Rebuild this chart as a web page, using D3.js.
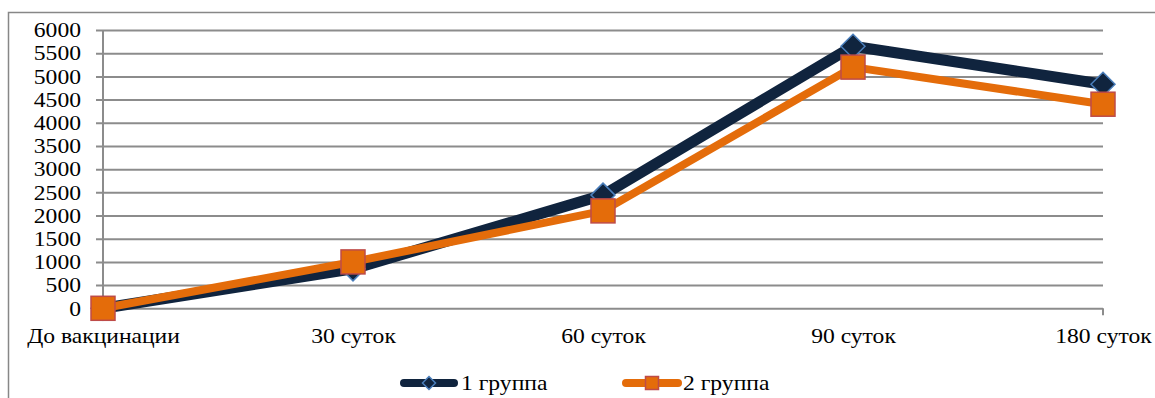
<!DOCTYPE html>
<html>
<head>
<meta charset="utf-8">
<script src="https://cdn.jsdelivr.net/npm/d3@7"></script>
<style>
  body { margin: 0; background: #fff; }
</style>
</head>
<body>
<div id="chart"></div>
<script>
// categories (days after vaccination) and the two groups
var categories = ["До вакцинации", "30 суток", "60 суток", "90 суток", "180 суток"];
var group1 = [0, 850, 2440, 5650, 4830];
var group2 = [0, 1000, 2100, 5200, 4400];
var seriesNames = ["1 группа", "2 группа"];
var yTicks = [0, 500, 1000, 1500, 2000, 2500, 3000, 3500, 4000, 4500, 5000, 5500, 6000];

var FONT = "'Liberation Serif', 'Times New Roman', Times, serif";
var STRETCH = 1.18; // the original picture is a bit wider than tall
var width = 1155, height = 398;
var m = {top: 30, right: 52, bottom: 90, left: 103}; // plot box

var svg = d3.select("#chart").append("svg")
    .attr("width", width)
    .attr("height", height)
    .attr("font-family", FONT);

// widen text glyphs horizontally around their anchor
function stretch(sel) {
    sel.each(function() {
        var t = d3.select(this);
        var tx = +t.attr("x") || 0;
        t.attr("x", 0)
         .attr("transform", "translate(" + tx + ",0) scale(" + STRETCH + ",1)");
    });
}

// outer chart frame (runs off the right and bottom of the picture)
svg.append("rect")
    .attr("x", 8.5).attr("y", 12.5)
    .attr("width", width + 20).attr("height", height + 20)
    .attr("fill", "none")
    .attr("stroke", "#878787")
    .attr("stroke-width", 1.5);

var x = d3.scalePoint()
    .domain(categories)
    .range([m.left, width - m.right])
    .padding(0);

var y = d3.scaleLinear()
    .domain([0, 6000])
    .range([308.3, m.top]);

// gridlines + y ticks
var yAxis = d3.axisLeft(y)
    .tickValues(yTicks)
    .tickSize(-(width - m.right - m.left))
    .tickSizeOuter(0)
    .tickPadding(22)
    .tickFormat(d3.format("d"));

var gy = svg.append("g")
    .attr("transform", "translate(" + m.left + ",0)")
    .call(yAxis)
    .attr("font-family", FONT);
gy.select(".domain").remove();
gy.selectAll(".tick line")
    .attr("x1", -7)
    .attr("stroke", "#8c8c8c")
    .attr("stroke-width", 2);
gy.selectAll(".tick text")
    .style("font-family", FONT)
    .style("font-size", "20px")
    .attr("fill", "#000")
    .attr("dy", "0.34em")
    .call(stretch);

// y axis line
svg.append("line")
    .attr("x1", m.left).attr("x2", m.left)
    .attr("y1", y(6000)).attr("y2", y(0) + 7)
    .attr("stroke", "#8c8c8c").attr("stroke-width", 2);

// x axis
var xAxis = d3.axisBottom(x)
    .tickSize(0)
    .tickPadding(21);
var gx = svg.append("g")
    .attr("transform", "translate(0," + y(0) + ")")
    .call(xAxis)
    .attr("font-family", FONT);
gx.select(".domain").remove();
gx.selectAll(".tick text")
    .style("font-family", FONT)
    .style("font-size", "20px")
    .attr("fill", "#000")
    .call(stretch);
svg.append("line")
    .attr("x1", x(categories[categories.length - 1])).attr("x2", x(categories[categories.length - 1]))
    .attr("y1", y(0)).attr("y2", y(0) + 7)
    .attr("stroke", "#8c8c8c").attr("stroke-width", 2);

var line = d3.line()
    .x(function(d, i) { return x(categories[i]); })
    .y(function(d) { return y(d); });

function diamond(r) {
    return "M0," + (-r) + "L" + r + ",0L0," + r + "L" + (-r) + ",0Z";
}

// series 1: dark line with diamonds
svg.append("path")
    .datum(group1)
    .attr("d", line)
    .attr("fill", "none")
    .attr("stroke", "#10243e")
    .attr("stroke-width", 11)
    .attr("stroke-linejoin", "round");
svg.selectAll(".m1").data(group1).enter().append("path")
    .attr("class", "m1")
    .attr("transform", function(d, i) { return "translate(" + x(categories[i]) + "," + y(d) + ")"; })
    .attr("d", diamond(12))
    .attr("fill", "#10243e")
    .attr("stroke", "#4a7ebb")
    .attr("stroke-width", 1.5);

// series 2: orange line with squares
svg.append("path")
    .datum(group2)
    .attr("d", line)
    .attr("fill", "none")
    .attr("stroke", "#e46c0a")
    .attr("stroke-width", 8)
    .attr("stroke-linejoin", "round");
svg.selectAll(".m2").data(group2).enter().append("rect")
    .attr("class", "m2")
    .attr("x", function(d, i) { return x(categories[i]) - 12; })
    .attr("y", function(d) { return y(d) - 12; })
    .attr("width", 24).attr("height", 24)
    .attr("fill", "#e46c0a")
    .attr("stroke", "#be4b48")
    .attr("stroke-width", 1.5);

// legend
var legend = svg.append("g").attr("transform", "translate(0,383)");
var l1 = legend.append("g").attr("transform", "translate(400,0)");
l1.append("line").attr("x1", 4).attr("x2", 54)
    .attr("stroke", "#10243e").attr("stroke-width", 8).attr("stroke-linecap", "round");
l1.append("path").attr("transform", "translate(29,0)").attr("d", diamond(6.5))
    .attr("fill", "#10243e").attr("stroke", "#4a7ebb").attr("stroke-width", 1.5);
l1.append("text").attr("x", 61).attr("dy", "0.34em")
    .style("font-family", FONT)
    .style("font-size", "20px").text(seriesNames[0])
    .call(stretch);

var l2 = legend.append("g").attr("transform", "translate(622,0)");
l2.append("line").attr("x1", 4).attr("x2", 56)
    .attr("stroke", "#e46c0a").attr("stroke-width", 8).attr("stroke-linecap", "round");
l2.append("rect").attr("x", 23.5).attr("y", -6.5).attr("width", 13).attr("height", 13)
    .attr("fill", "#e46c0a").attr("stroke", "#be4b48").attr("stroke-width", 1.5);
l2.append("text").attr("x", 61).attr("dy", "0.34em")
    .style("font-family", FONT)
    .style("font-size", "20px").text(seriesNames[1])
    .call(stretch);
</script>
</body>
</html>
